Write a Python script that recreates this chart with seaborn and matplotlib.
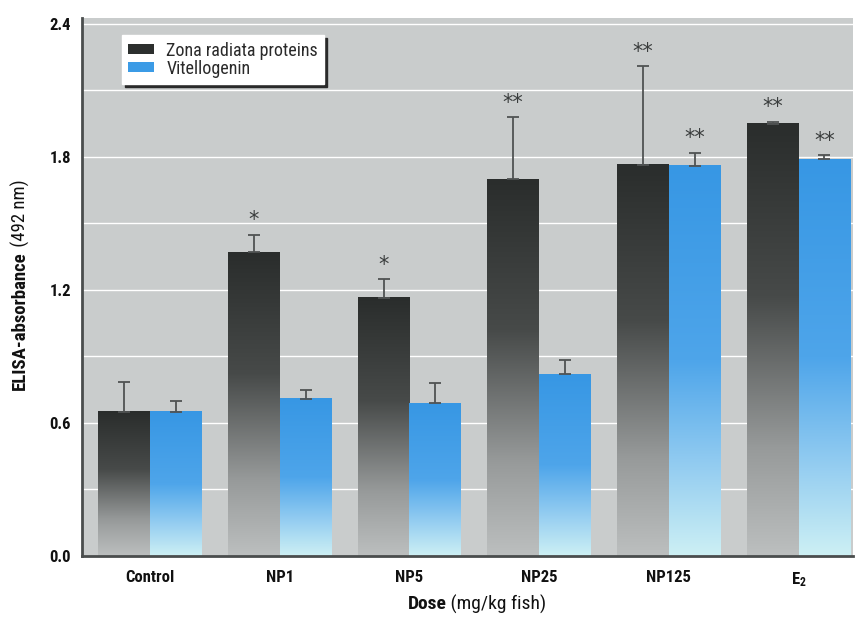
import numpy as np
import pandas as pd
import matplotlib
matplotlib.use("Agg")
import matplotlib.pyplot as plt
from matplotlib.colors import LinearSegmentedColormap
from matplotlib.patches import Patch
from matplotlib import font_manager as fm
import seaborn as sns

# Dose groups and measured absorbance
doses = ["Control", "NP1", "NP5", "NP25", "NP125", "E$_2$"]
zona_mean = [0.65, 1.37, 1.165, 1.70, 1.765, 1.95]
zona_err = [0.135, 0.08, 0.085, 0.28, 0.445, 0.01]
vtg_mean = [0.65, 0.71, 0.69, 0.82, 1.76, 1.79]
vtg_err = [0.05, 0.04, 0.09, 0.066, 0.06, 0.02]
zona_sig = ["", "*", "*", "**", "**", "**"]
vtg_sig = ["", "", "", "", "**", "**"]
series = ["Zona radiata proteins", "Vitellogenin"]
yticks = [0.0, 0.6, 1.2, 1.8, 2.4]

sns.set_theme(style="white")
names = {f.name for f in fm.fontManager.ttflist}
narrow = [n for n in ["Liberation Sans Narrow", "Roboto Condensed",
                      "Open Sans Condensed", "DejaVu Sans"] if n in names]
plt.rcParams["font.family"] = narrow + ["DejaVu Sans"]
plt.rcParams["font.stretch"] = "condensed"
plt.rcParams["mathtext.fontset"] = "custom"
plt.rcParams["mathtext.rm"] = f"{narrow[0]}:bold"
plt.rcParams["mathtext.it"] = f"{narrow[0]}:bold"

df = pd.DataFrame({
    "dose": doses * 2,
    "value": zona_mean + vtg_mean,
    "err": zona_err + vtg_err,
    "sig": zona_sig + vtg_sig,
    "series": [series[0]] * len(doses) + [series[1]] * len(doses),
})

W, H = 857, 617
fig = plt.figure(figsize=(W / 100, H / 100), dpi=100)
ax = fig.add_axes([82 / W, (H - 556) / H, (853 - 82) / W, (556 - 18) / H])
ax.set_facecolor("#c9cccc")

dark_col, blue_col = "#2c2f2e", "#3b9be6"
sns.barplot(data=df, x="dose", y="value", hue="series", order=doses,
            hue_order=series, palette=[dark_col, blue_col], width=0.8,
            errorbar=None, ax=ax, legend=False, zorder=3)

cmap_dark = LinearSegmentedColormap.from_list(
    "zona", [(0.0, "#bcbfbf"), (0.25, "#979a9a"), (0.6, "#474a49"), (1.0, "#2a2d2c")])
cmap_blue = LinearSegmentedColormap.from_list(
    "vtg", [(0.0, "#cdf0f4"), (0.22, "#96cef1"), (0.5, "#4ea5ea"), (1.0, "#3797e4")])

grad = np.linspace(0, 1, 256).reshape(-1, 1)
bars = [p for p in ax.patches if p.get_height() > 0]
n = len(doses)
for i, p in enumerate(bars):
    x0, y0 = p.get_x(), p.get_y()
    w, h = p.get_width(), p.get_height()
    cm = cmap_dark if i < n else cmap_blue
    ax.imshow(grad, extent=[x0, x0 + w, y0, y0 + h], origin="lower",
              aspect="auto", cmap=cm, zorder=3, interpolation="bilinear")
    p.set_facecolor("none")
    p.set_edgecolor("none")

# Upper error bars and significance marks
for i, p in enumerate(bars):
    row = df.iloc[i]
    xc = p.get_x() + p.get_width() / 2
    ax.errorbar(xc, row["value"], yerr=[[0], [row["err"]]], fmt="none",
                ecolor="#505353", elinewidth=1.3, capsize=4, capthick=1.3, zorder=4)
    if row["sig"]:
        ax.annotate(row["sig"], (xc, row["value"] + row["err"]),
                    xytext=(0, 3), textcoords="offset points", ha="center",
                    va="bottom", fontsize=15, color="#3a3d3d",
                    family=["DejaVu Sans"], fontstretch="normal", zorder=5)

ax.set_xlim(-0.525, 5.42)
ax.set_ylim(0, 2.427)
ax.set_yticks(yticks)
ax.set_yticklabels([f"{v:.1f}" for v in yticks])
ax.set_yticks(np.arange(0.3, 2.4, 0.6), minor=True)
ax.yaxis.grid(True, which="both", color="white", linewidth=1.0, zorder=1)
ax.set_axisbelow(True)
ax.tick_params(axis="both", which="both", length=0, pad=8)
for lab in ax.get_xticklabels() + ax.get_yticklabels():
    lab.set_fontweight("bold")
    lab.set_fontsize(12)
    lab.set_color("#111111")
ax.tick_params(axis="x", pad=10)
ax.set_xlabel("")
ax.set_ylabel("")
for s in ["top", "right"]:
    ax.spines[s].set_visible(False)
for s in ["left", "bottom"]:
    ax.spines[s].set_color("#4a4d4d")
    ax.spines[s].set_linewidth(2)
    ax.spines[s].set_zorder(6)

handles = [Patch(facecolor=dark_col, edgecolor="none"),
           Patch(facecolor=blue_col, edgecolor="none")]
leg = ax.legend(handles, series, loc="upper left",
                bbox_to_anchor=(0.052, 0.968), frameon=True, fancybox=False,
                shadow={"color": "#2a2a2a", "alpha": 1.0}, fontsize=13,
                handlelength=1.4, handleheight=0.45, handletextpad=0.7,
                labelspacing=0.0, borderpad=0.35, borderaxespad=0)
leg.get_frame().set_facecolor("white")
leg.get_frame().set_edgecolor("white")
leg.get_frame().set_alpha(1)
for t in leg.get_texts():
    t.set_color("#2a2a2a")

# Axis titles with bold lead word followed by regular units
fig.canvas.draw()
renderer = fig.canvas.get_renderer()
ty = (H - 604) / H
xl_b = fig.text(0, ty, "Dose", fontsize=14, fontweight="bold",
                ha="left", va="center", color="#111111")
xl_r = fig.text(0, ty, " (mg/kg fish)", fontsize=14,
                ha="left", va="center", color="#111111")
wb = xl_b.get_window_extent(renderer).width
wr = xl_r.get_window_extent(renderer).width
cx = 477
xl_b.set_x((cx - (wb + wr) / 2) / W)
xl_r.set_x((cx - (wb + wr) / 2 + wb) / W)

yl_b = fig.text(20 / W, 0, "ELISA-absorbance", fontsize=13.5, fontweight="bold",
                rotation=90, ha="center", va="bottom", color="#111111")
yl_r = fig.text(20 / W, 0, " (492 nm)", fontsize=13.5, rotation=90,
                ha="center", va="bottom", color="#111111")
hb = yl_b.get_window_extent(renderer).height
hr = yl_r.get_window_extent(renderer).height
cy = H - 285
yl_b.set_y((cy - (hb + hr) / 2) / H)
yl_r.set_y((cy - (hb + hr) / 2 + hb) / H)

fig.savefig("out.png", dpi=100, facecolor="white")
